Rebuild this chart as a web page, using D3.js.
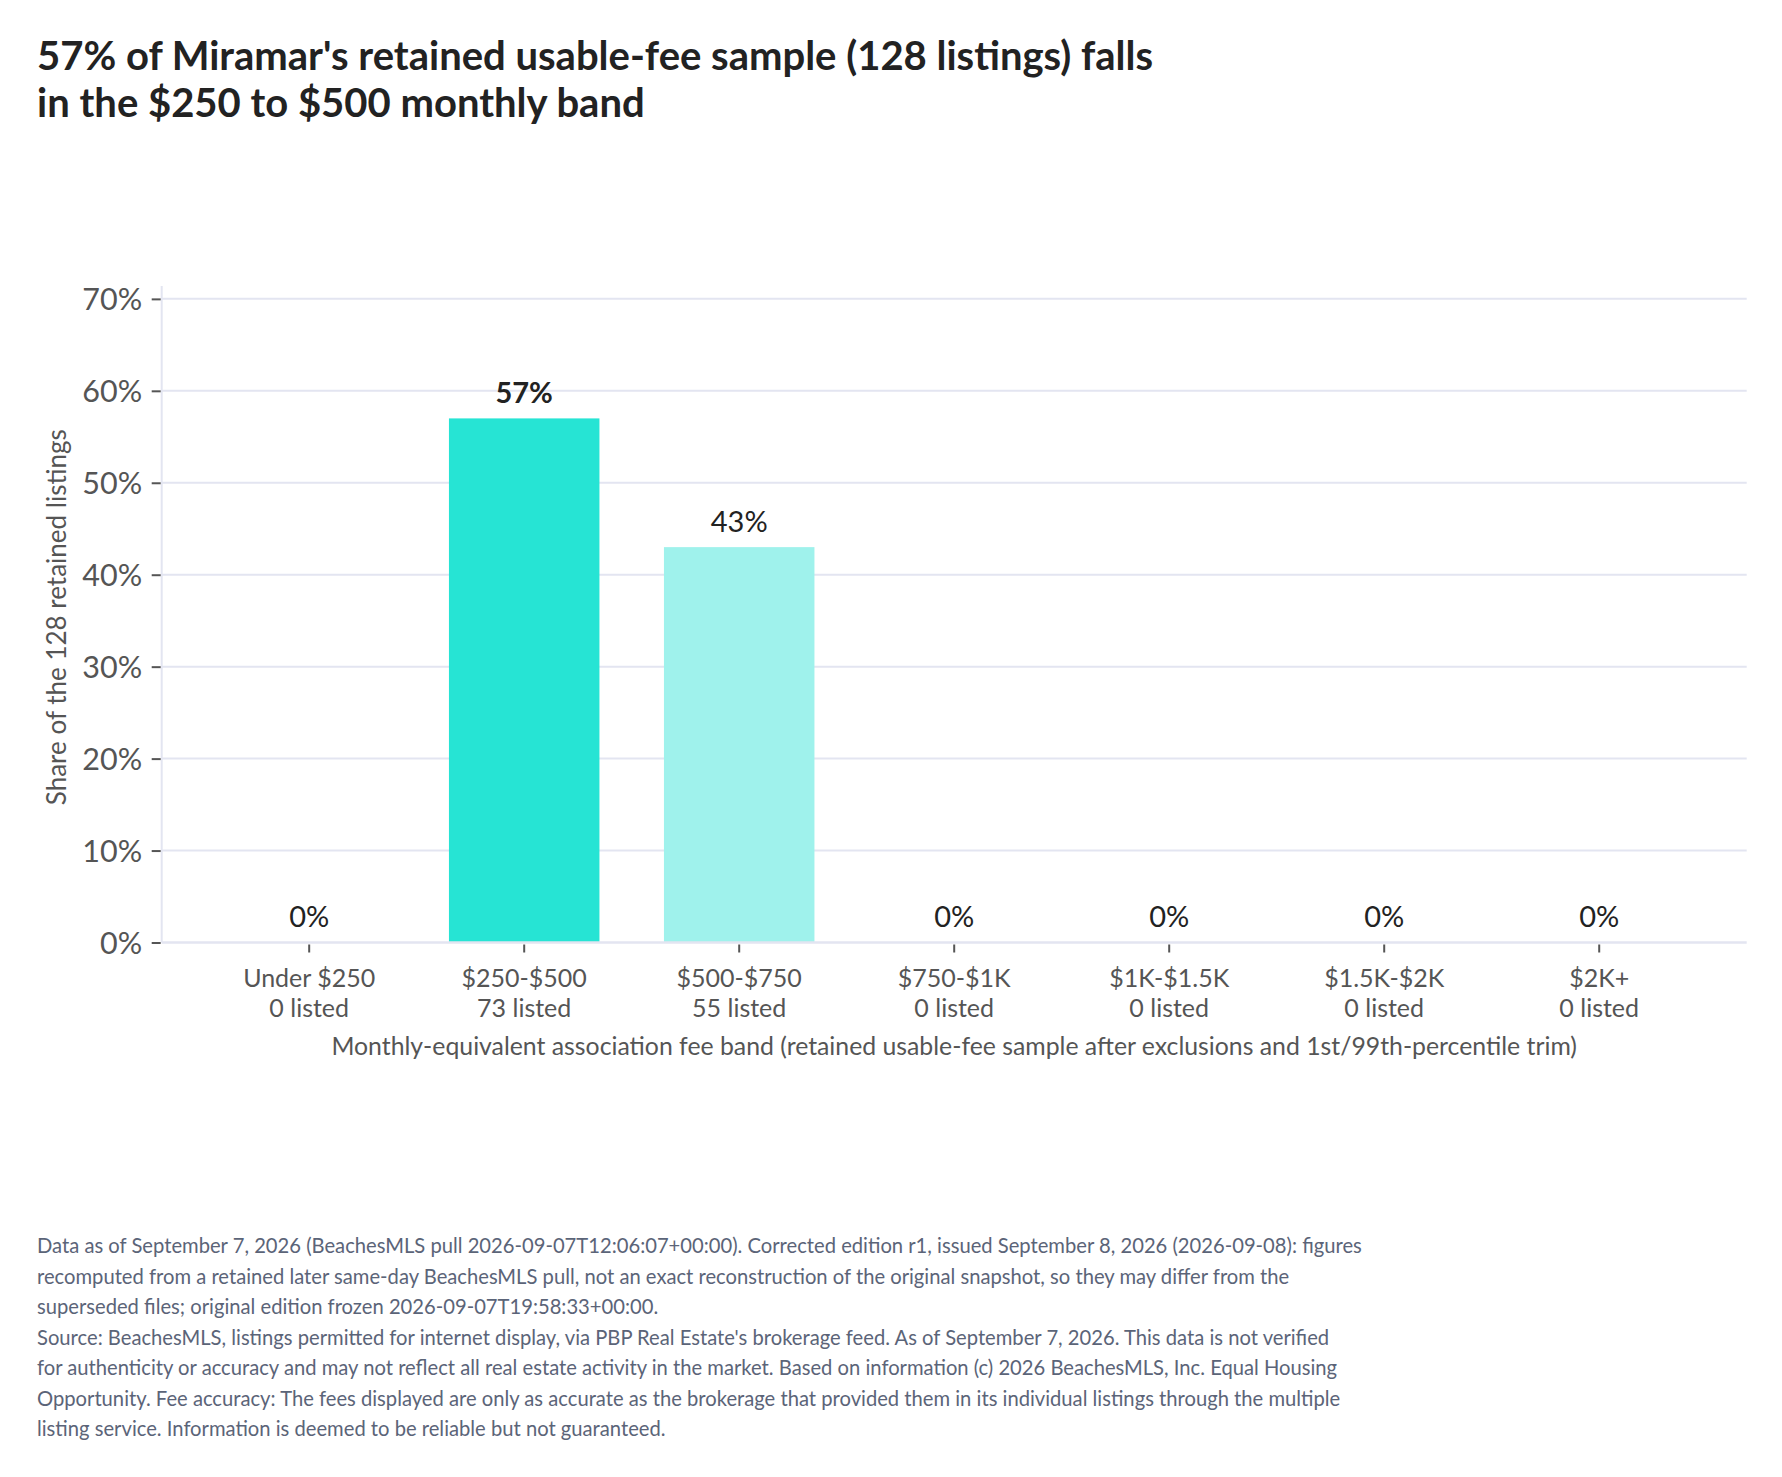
<!DOCTYPE html>
<html>
<head>
<meta charset="utf-8">
<script src="https://cdn.jsdelivr.net/npm/d3@7"></script>
<style>
  html, body { margin: 0; padding: 0; background: #ffffff; }
  svg { display: block; font-family: Lato, "Noto Sans", sans-serif; }
</style>
</head>
<body>
<svg id="chart" width="1782" height="1477"></svg>
<script>
// ---- Data ----
const categories = ["Under $250", "$250-$500", "$500-$750", "$750-$1K", "$1K-$1.5K", "$1.5K-$2K", "$2K+"];
const listedCounts = [0, 73, 55, 0, 0, 0, 0];
const sharePct = [0, 57.0, 43.0, 0, 0, 0, 0];
const shareLabels = ["0%", "57%", "43%", "0%", "0%", "0%", "0%"];
const yTicks = [0, 10, 20, 30, 40, 50, 60, 70];
const barColors = ["#26E4D4", "#26E4D4", "#9FF2EC", "#9FF2EC", "#9FF2EC", "#9FF2EC", "#9FF2EC"];

const titleLines = [
  "57% of Miramar's retained usable-fee sample (128 listings) falls",
  "in the $250 to $500 monthly band"
];
const yTitle = "Share of the 128 retained listings";
const xTitle = "Monthly-equivalent association fee band (retained usable-fee sample after exclusions and 1st/99th-percentile trim)";
const footerLines = [
  "Data as of September 7, 2026 (BeachesMLS pull 2026-09-07T12:06:07+00:00). Corrected edition r1, issued September 8, 2026 (2026-09-08): figures",
  "recomputed from a retained later same-day BeachesMLS pull, not an exact reconstruction of the original snapshot, so they may differ from the",
  "superseded files; original edition frozen 2026-09-07T19:58:33+00:00.",
  "Source: BeachesMLS, listings permitted for internet display, via PBP Real Estate's brokerage feed. As of September 7, 2026. This data is not verified",
  "for authenticity or accuracy and may not reflect all real estate activity in the market. Based on information (c) 2026 BeachesMLS, Inc. Equal Housing",
  "Opportunity. Fee accuracy: The fees displayed are only as accurate as the brokerage that provided them in its individual listings through the multiple",
  "listing service. Information is deemed to be reliable but not guaranteed."
];

// ---- Layout ----
const plot = { left: 161.7, right: 1746.7, top: 286, bottom: 942.5 };
const gridColor = "#e3e5f1";
const tickColor = "#555555";
const labelColor = "#555555";

const svg = d3.select("#chart");
svg.append("rect").attr("width", 1782).attr("height", 1477).attr("fill", "#ffffff");

// Title
const title = svg.append("text")
  .attr("x", 37).attr("y", 70)
  .attr("font-size", 40).attr("font-weight", 700).attr("fill", "#222222");
titleLines.forEach((l, i) => {
  title.append("tspan").attr("x", 37).attr("dy", i === 0 ? 0 : 47).text(l);
});

// Scales
const x = d3.scaleBand()
  .domain(categories)
  .range([plot.left, plot.right])
  .paddingInner(0.3)
  .paddingOuter(0.336);

const y = d3.scaleLinear()
  .domain([0, 71.4])
  .range([plot.bottom, plot.top]);

// Gridlines
svg.append("g")
  .selectAll("line")
  .data(yTicks.filter(t => t > 0))
  .join("line")
  .attr("x1", plot.left).attr("x2", plot.right)
  .attr("y1", d => y(d)).attr("y2", d => y(d))
  .attr("stroke", gridColor).attr("stroke-width", 2);

// Axis lines
svg.append("line")
  .attr("x1", plot.left).attr("x2", plot.left)
  .attr("y1", plot.top).attr("y2", plot.bottom)
  .attr("stroke", gridColor).attr("stroke-width", 2);

// Y axis
const yAxis = d3.axisLeft(y)
  .tickValues(yTicks)
  .tickFormat(d => d + "%")
  .tickSize(9)
  .tickPadding(9.5);
const yg = svg.append("g")
  .attr("transform", `translate(${plot.left - 1},0)`)
  .call(yAxis);
yg.select(".domain").remove();
yg.selectAll(".tick line").attr("stroke", tickColor).attr("stroke-width", 2);
yg.selectAll(".tick text")
  .attr("fill", labelColor)
  .attr("font-size", 30.5)
  .attr("font-family", "Lato, sans-serif")
  .attr("dy", "0.36em");

// Bars
svg.append("g")
  .selectAll("rect")
  .data(categories)
  .join("rect")
  .attr("x", d => x(d))
  .attr("width", x.bandwidth())
  .attr("y", (d, i) => y(sharePct[i]))
  .attr("height", (d, i) => y(0) - y(sharePct[i]))
  .attr("fill", (d, i) => barColors[i]);

// Baseline
svg.append("line")
  .attr("x1", plot.left).attr("x2", plot.right)
  .attr("y1", plot.bottom).attr("y2", plot.bottom)
  .attr("stroke", gridColor).attr("stroke-width", 2.5);

// Value labels
const maxShare = d3.max(sharePct);
svg.append("g")
  .selectAll("text")
  .data(categories)
  .join("text")
  .attr("x", d => x(d) + x.bandwidth() / 2)
  .attr("y", (d, i) => y(sharePct[i]) - 15.5)
  .attr("text-anchor", "middle")
  .attr("font-size", 29)
  .attr("font-weight", (d, i) => sharePct[i] === maxShare ? 700 : 400)
  .attr("fill", "#222222")
  .text((d, i) => shareLabels[i]);

// X axis
const xAxis = d3.axisBottom(x).tickSize(10).tickFormat("");
const xg = svg.append("g")
  .attr("transform", `translate(0,${plot.bottom})`)
  .call(xAxis);
xg.select(".domain").remove();
xg.selectAll(".tick line").attr("stroke", tickColor).attr("stroke-width", 2).attr("y1", 2);
xg.selectAll(".tick").each(function(d, i) {
  const t = d3.select(this).append("text")
    .attr("text-anchor", "middle")
    .attr("fill", labelColor)
    .attr("font-size", 25)
    .attr("font-family", "Lato, sans-serif");
  t.append("tspan").attr("x", 0).attr("y", 44).text(d);
  t.append("tspan").attr("x", 0).attr("y", 74).text(listedCounts[i] + " listed");
});

// Axis titles
svg.append("text")
  .attr("x", (plot.left + plot.right) / 2)
  .attr("y", 1055)
  .attr("text-anchor", "middle")
  .attr("font-size", 24.8)
  .attr("fill", labelColor)
  .text(xTitle);

svg.append("text")
  .attr("transform", `translate(66,${(plot.top + plot.bottom) / 2 + 3}) rotate(-90)`)
  .attr("text-anchor", "middle")
  .attr("font-size", 26)
  .attr("fill", labelColor)
  .text(yTitle);

// Footer
const foot = svg.append("text")
  .attr("x", 37).attr("y", 1253)
  .attr("font-size", 20.2)
  .attr("fill", "#5b6478");
footerLines.forEach((l, i) => {
  foot.append("tspan").attr("x", 37).attr("dy", i === 0 ? 0 : 30.5).text(l);
});
</script>
</body>
</html>
